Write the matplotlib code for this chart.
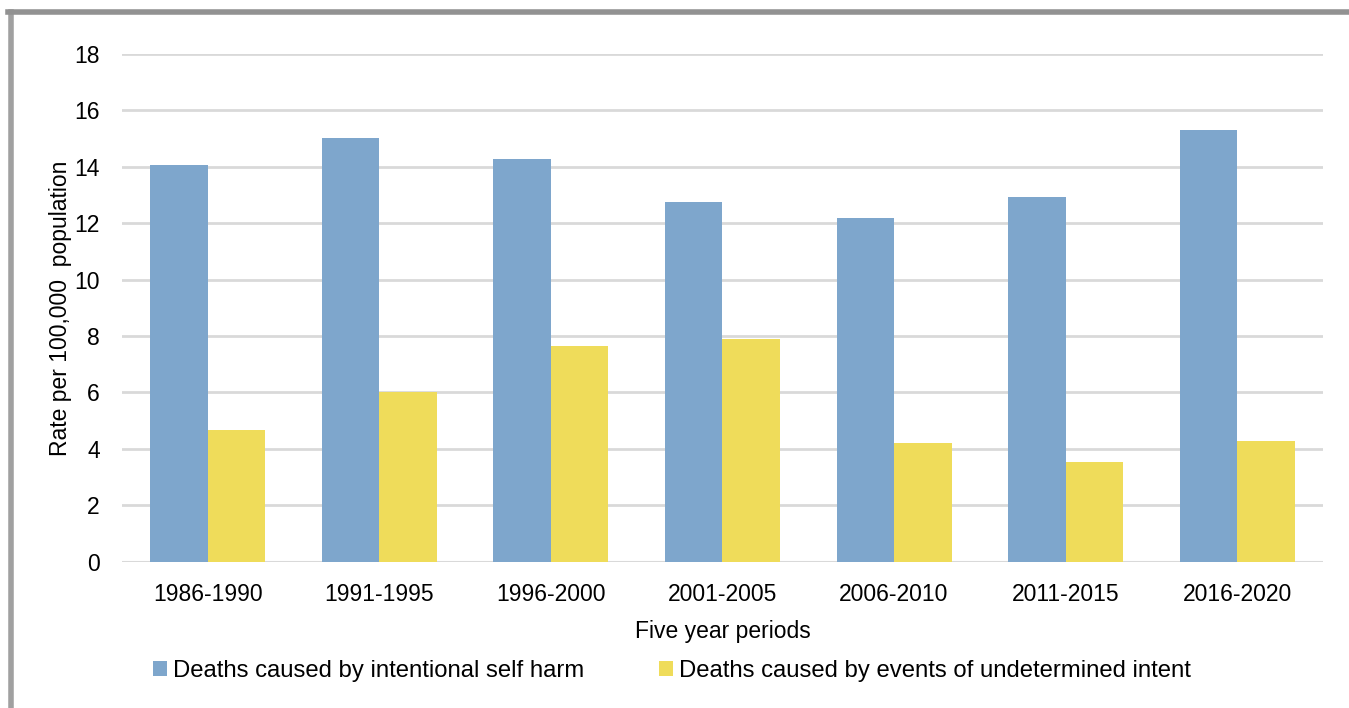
"""Rates of deaths from intentional self harm and undetermined intent, by five year period."""

import numpy as np
import matplotlib
import matplotlib.pyplot as plt
from matplotlib.lines import Line2D

matplotlib.use("Agg")

periods = ["1986-1990", "1991-1995", "1996-2000", "2001-2005",
           "2006-2010", "2011-2015", "2016-2020"]
self_harm = [14.07, 15.04, 14.27, 12.74, 12.18, 12.93, 15.29]
undetermined = [4.67, 6.01, 7.65, 7.91, 4.22, 3.54, 4.28]

label_harm = "Deaths caused by intentional self harm"
label_undet = "Deaths caused by events of undetermined intent"

BLUE = "#7ea6cc"
YELLOW = "#efdc5a"
GRID = "#d9d9d9"

plt.rcParams["font.family"] = ["Liberation Sans", "DejaVu Sans"]

fig = plt.figure(figsize=(13.49, 7.08), dpi=100)
ax = fig.add_axes([0.0904, 0.2066, 0.8903, 0.7171])

x = np.arange(len(periods))
width = 0.335
ax.bar(x - width / 2, self_harm, width, color=BLUE, label=label_harm, zorder=3)
ax.bar(x + width / 2, undetermined, width, color=YELLOW, label=label_undet, zorder=3)

ax.set_xlim(-0.5, len(periods) - 0.5)
ax.set_ylim(0, 18)
ax.set_yticks(range(0, 19, 2))
ax.set_xticks(x)
ax.set_xticklabels(periods)

ax.yaxis.grid(True, color=GRID, linewidth=2, zorder=0)
ax.set_axisbelow(True)
for side in ["top", "right", "left", "bottom"]:
    ax.spines[side].set_visible(False)
ax.axhline(0, color=GRID, linewidth=2.2, zorder=1)

ax.tick_params(axis="both", length=0, labelsize=16.5, colors="black")
ax.tick_params(axis="y", pad=16)
ax.tick_params(axis="x", pad=15)

ax.set_xlabel("Five year periods", fontsize=16.5)
ax.set_ylabel("Rate per 100,000  population", fontsize=16.5)
ax.xaxis.set_label_coords(0.5, -0.1365)
ax.yaxis.set_label_coords(-0.051, 0.5)
ax.xaxis.label.set_va("center")
ax.yaxis.label.set_va("center")

ax.legend(loc="center", bbox_to_anchor=(0.498, 0.052),
          bbox_transform=fig.transFigure, ncol=2,
          frameon=False, fontsize=17.2, handlelength=0.6, handleheight=0.6,
          handletextpad=0.25, columnspacing=3.1)

# grey frame on the left and top edges
fig.add_artist(Line2D([0.0078, 0.0078], [0, 0.983], transform=fig.transFigure,
                      color="#a0a0a0", linewidth=4))
fig.add_artist(Line2D([0.0063, 1.0], [0.9835, 0.9835], transform=fig.transFigure,
                      color="#929292", linewidth=4))

fig.savefig("out.png", dpi=100)
plt.close(fig)
